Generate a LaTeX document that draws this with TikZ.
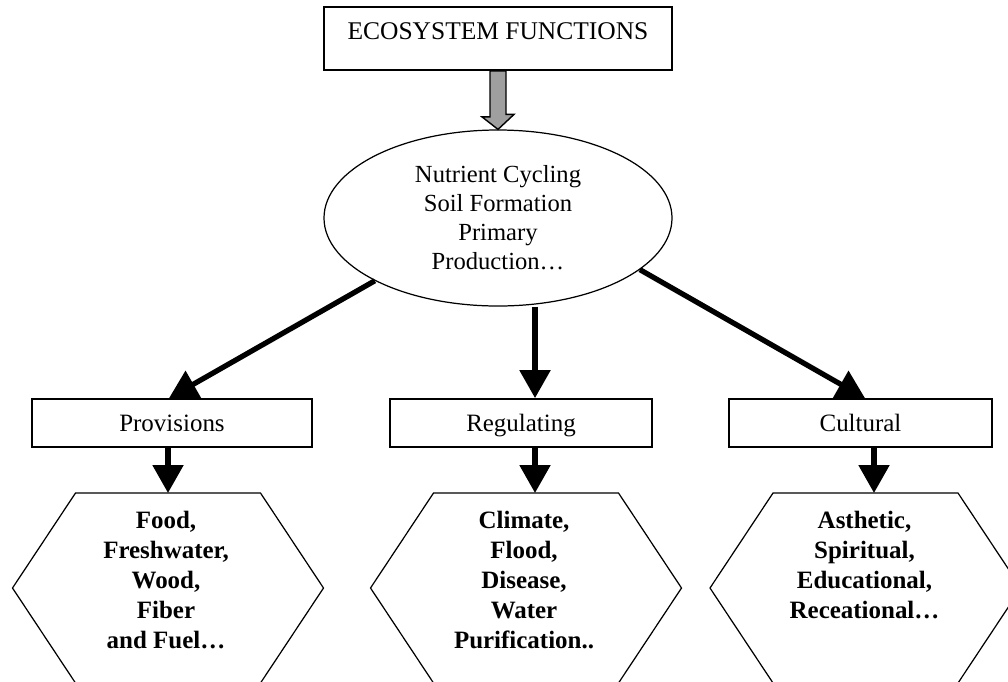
\documentclass[tikz,border=0pt]{standalone}
\usepackage{fontspec}
\setmainfont{Liberation Serif}
\usetikzlibrary{arrows.meta,shapes.geometric,positioning}
\tikzset{eco-title/.style={draw,fill=white,line width=1pt,minimum width=6.96cm,minimum height=1.26cm,text height=9.5pt,text depth=8.6pt,inner sep=0pt,font=\fontsize{14.5}{17}\selectfont}}
\tikzset{eco-box/.style={draw,fill=white,line width=1pt,minimum height=0.96cm,text height=9.5pt,text depth=0pt,inner sep=0pt,font=\fontsize{14.2}{17}\selectfont}}
\tikzset{eco-ellipse/.style={ellipse,draw,fill=white,line width=0.7pt,minimum width=6.96cm,minimum height=3.52cm,inner sep=0pt,align=center,font=\fontsize{14}{16.5}\selectfont}}
\tikzset{eco-hex/.style={draw,fill=white,line width=0.7pt}}
\tikzset{eco-list/.style={align=center,anchor=north,inner sep=0pt,font=\bfseries\fontsize{14.2}{17}\selectfont}}
\tikzset{flow/.style={line width=3pt,-{Triangle[length=0.56cm,width=0.6cm]}}}
\tikzset{>=latex}
\newcommand{\ecohex}[1]{\draw[eco-hex] (#1) ++(-3.11,0) -- ++(1.26,1.9) -- ++(3.7,0) -- ++(1.26,-1.9) -- ++(-1.26,-1.9) -- ++(-3.7,0) -- cycle;}

\begin{document}
\begin{tikzpicture}[]
    \useasboundingbox[fill=white] (0,0) rectangle (20.16,-13.62);

    % top of the tree
    \node [eco-title] (eco) at (9.96,-0.77) {ECOSYSTEM FUNCTIONS};
    \node [eco-ellipse] (funcs) at (9.96,-4.36) {Nutrient Cycling\\Soil Formation\\Primary\\Production\dots};
    \draw [line width=0.8pt, fill=gray!75]
        ([xshift=-0.16cm]eco.south) -- ++(0,-0.92) -- ++(-0.16,0) --
        (funcs.north) -- ++(0.32,0.3) -- ++(-0.16,0) --
        ([xshift=0.16cm]eco.south) -- cycle;

    % service groups
    \node [eco-box, minimum width=5.6cm] (prov) at (3.44,-8.46) {Provisions};
    \node [eco-box, minimum width=5.24cm] (reg) at (10.42,-8.46) {Regulating};
    \node [eco-box, minimum width=5.26cm] (cult) at (17.21,-8.46) {Cultural};

    % hexagons
    \coordinate (supply-hex) at (3.36,-11.76);
    \coordinate (regul-hex) at (10.52,-11.76);
    \coordinate (culture-hex) at (17.31,-11.76);
    \ecohex{supply-hex}
    \ecohex{regul-hex}
    \ecohex{culture-hex}
    \coordinate (supply-in) at (3.36,-9.86);
    \coordinate (regul-in) at (10.70,-9.86);
    \coordinate (culture-in) at (17.48,-9.86);

    \node [eco-list] (supply) at (3.32,-10.22) {Food,\\Freshwater,\\Wood,\\Fiber\\and Fuel\dots};
    \node [eco-list] (regul) at (10.48,-10.22) {Climate,\\Flood,\\Disease,\\Water\\Purification..};
    \node [eco-list] (culture) at (17.29,-10.22) {Asthetic,\\Spiritual,\\Educational,\\Receational\dots};

    % arrows
    \draw [flow] (funcs.207) -- ([xshift=-0.06cm]prov.north);
    \draw [flow] (funcs.south -| regul-in) -- (reg.north -| regul-in);
    \draw [flow] (funcs.340) -- ([xshift=0.09cm]cult.north);
    \draw [flow] (prov.south -| supply-in) -- (supply-in);
    \draw [flow] (reg.south -| regul-in) -- (regul-in);
    \draw [flow] (cult.south -| culture-in) -- (culture-in);
\end{tikzpicture}
\end{document}
